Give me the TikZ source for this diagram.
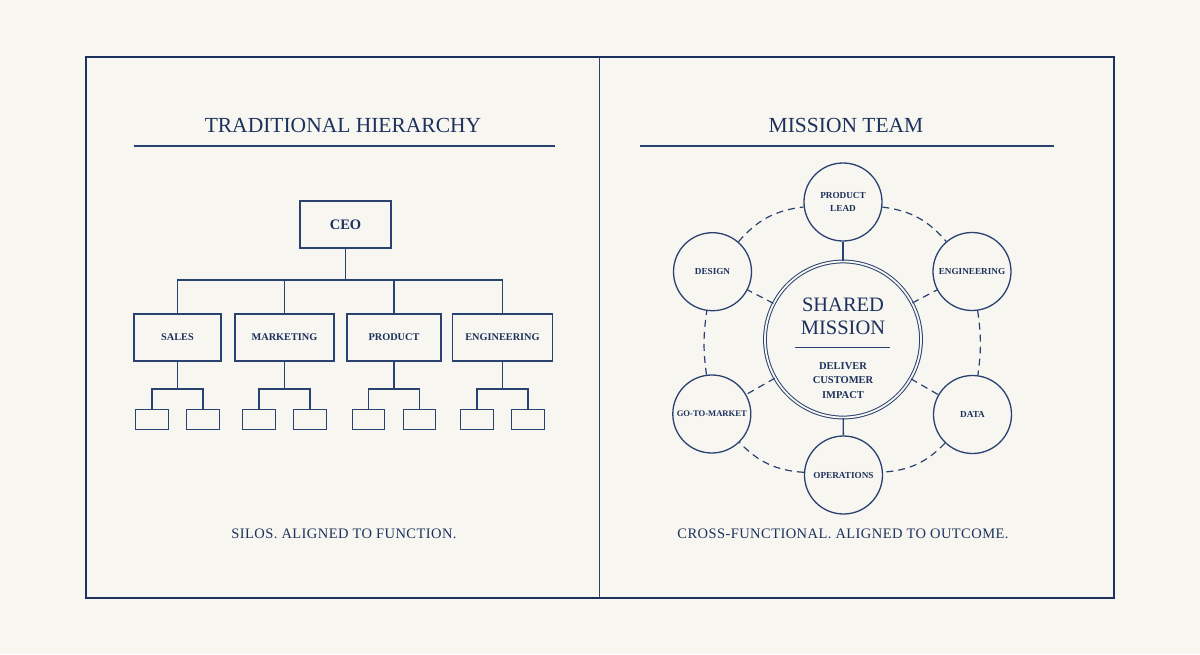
\documentclass[tikz,border=0pt]{standalone}
\usepackage{fontspec}
\setmainfont{Liberation Serif}
\definecolor{navy}{HTML}{1C315C}
\definecolor{lnc}{HTML}{2A4270}
\definecolor{bg}{HTML}{F8F6F1}
\begin{document}
\begin{tikzpicture}[x=1pt,y=-1pt,
  ln/.style={draw=lnc,line width=1.3pt},
  dsh/.style={draw=lnc,line width=1.2pt,dash pattern=on 7pt off 5pt},
  title/.style={text=navy,font=\fontsize{21.5}{24}\selectfont,inner sep=0pt},
  caption/.style={text=navy,font=\fontsize{14.5}{17}\selectfont\addfontfeature{LetterSpace=3},inner sep=0pt},
  ceobox/.style={draw=lnc,line width=1.3pt,fill=bg,text=navy,minimum width=91pt,minimum height=47pt,inner sep=0pt,font=\bfseries\fontsize{14.5}{16}\selectfont},
  dept/.style={draw=lnc,line width=1.3pt,fill=bg,text=navy,minimum height=47pt,inner sep=0pt,font=\bfseries\fontsize{10.3}{12}\selectfont},
  leaf/.style={draw=lnc,line width=1.3pt,fill=bg,minimum width=32.5pt,minimum height=19.5pt,inner sep=0pt},
  sat/.style={circle,draw=lnc,line width=1.3pt,fill=bg,text=navy,minimum size=78pt,inner sep=0pt,align=center,font=\bfseries\fontsize{9.2}{12.6}\selectfont},
  hub/.style={circle,draw=lnc,line width=1pt,double=bg,double distance=1.8pt,fill=bg,minimum size=156pt,inner sep=0pt}
]
\fill[bg] (0,0) rectangle (1200,654);
\useasboundingbox (0,0) rectangle (1200,654);

% frame
\draw[draw=navy,line width=1.9pt] (86,57) rectangle (1114,598);
\coordinate (divT) at (599.5,57);
\coordinate (divB) at (599.5,598);
\draw[draw=lnc,line width=1.3pt] (divT) -- (divB);

% titles
\node[title] (tl) at (343,125) {TRADITIONAL HIERARCHY};
\node[title] (tr) at (846,125) {MISSION TEAM};
\coordinate (ulA) at (133.5,146); \coordinate (ulB) at (554.5,146);
\coordinate (urA) at (640,146); \coordinate (urB) at (1054,146);
\draw[ln] (ulA) -- (ulB);
\draw[ln] (urA) -- (urB);

% hierarchy
\node[ceobox] (ceo) at (345.5,224.5) {CEO};
\node[dept,minimum width=87pt] (sales) at (177.5,337.5) {SALES};
\node[dept,minimum width=99pt] (mkt) at (284.5,337.5) {MARKETING};
\node[dept,minimum width=94pt] (prod) at (394,337.5) {PRODUCT};
\node[dept,minimum width=100pt] (eng) at (502.5,337.5) {ENGINEERING};
\coordinate (bus) at (0,280);
\draw[ln] (ceo.south) -- (ceo.south |- bus);
\draw[ln] (sales.north) -- (sales.north |- bus) -- (eng.north |- bus) -- (eng.north);
\draw[ln] (mkt.north) -- (mkt.north |- bus);
\draw[ln] (prod.north) -- (prod.north |- bus);

\coordinate (sbus) at (0,389);
\foreach \d/\c in {sales/177.5,mkt/284.5,prod/394,eng/502.5}{
  \node[leaf] (\d1) at (\c-25.5,419.5) {};
  \node[leaf] (\d2) at (\c+25.5,419.5) {};
  \draw[ln] (\d.south) -- (\d.south |- sbus);
  \draw[ln] (\d1.north) -- (\d1.north |- sbus) -- (\d2.north |- sbus) -- (\d2.north);
}

\node[caption] (capl) at (344,534) {SILOS. ALIGNED TO FUNCTION.};

% mission team
\node[sat] (pl) at (843,202) {PRODUCT\\LEAD};
\node[sat] (en) at (972,271.5) {ENGINEERING};
\node[sat] (da) at (972.5,414.5) {DATA};
\node[sat] (op) at (843.5,475) {OPERATIONS};
\node[sat,font=\bfseries\fontsize{8.6}{12}\selectfont] (gm) at (711.8,414) {GO-TO-MARKET};
\node[sat] (de) at (712.5,271.7) {DESIGN};

\draw[dsh] (pl) to[bend left=21] (en);
\draw[dsh] (en) to[bend left=8] (da);
\draw[dsh] (da) to[bend left=21] (op);
\draw[dsh] (op) to[bend left=21] (gm);
\draw[dsh] (gm) to[bend left=8] (de);
\draw[dsh] (de) to[bend left=21] (pl);

\node[hub] (hub) at (843,339.5) {};
\draw[ln] (hub) -- (pl);
\draw[ln] (hub) -- (op);
\draw[dsh] (hub) -- (de);
\draw[dsh] (hub) -- (en);
\draw[dsh] (hub) -- (gm);
\draw[dsh] (hub) -- (da);

\node[text=navy,align=center,inner sep=0pt,font=\fontsize{20.5}{23}\selectfont] (shared) at (843,316.5) {SHARED\\MISSION};
\coordinate (hlA) at (795,347.5); \coordinate (hlB) at (890,347.5);
\draw[ln] (hlA) -- (hlB);
\node[text=navy,align=center,inner sep=0pt,font=\bfseries\fontsize{10.5}{14.5}\selectfont] (dci) at (843,380.5) {DELIVER\\CUSTOMER\\IMPACT};

\node[caption] (capr) at (843,534) {CROSS-FUNCTIONAL. ALIGNED TO OUTCOME.};
\end{tikzpicture}
\end{document}
